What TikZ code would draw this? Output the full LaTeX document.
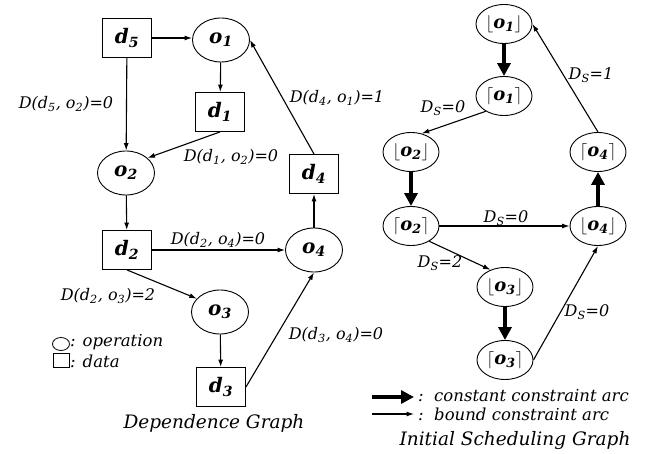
\documentclass[tikz,border=0pt]{standalone}
\usepackage{fontspec}
\setmainfont{DejaVu Serif}
\usetikzlibrary{arrows.meta,shapes.geometric}
\newcommand{\sbs}[1]{\textsubscript{#1}}
\tikzset{
  every node/.style={inner sep=0pt},
  datab/.style={draw, line width=0.9pt, minimum width=49pt, minimum height=39pt,
    font=\fontsize{20}{22}\selectfont\bfseries\itshape},
  oper/.style={draw, ellipse, line width=0.9pt, minimum width=57pt, minimum height=44pt,
    font=\fontsize{20}{22}\selectfont\bfseries\itshape},
  sop/.style={draw, ellipse, line width=0.9pt, minimum width=56pt, minimum height=39pt,
    font=\fontsize{18}{20}\selectfont\bfseries\itshape},
  arr/.style={-{Latex[length=7.5pt,width=5pt]}, line width=1.1pt},
  carr/.style={-{Triangle[length=13pt,width=13pt]}, line width=4.5pt},
  lab/.style={font=\fontsize{16}{18}\selectfont\itshape},
  txt/.style={font=\fontsize{16.5}{18}\selectfont\itshape},
  ttl/.style={font=\fontsize{18.5}{20}\selectfont\itshape},
}
\begin{document}
\begin{tikzpicture}[x=1pt,y=-1pt]
\useasboundingbox (0,0) rectangle (655,454);
% ---------- Dependence graph ----------
\node[datab] (d5) at (127,38) {d\sbs{5}};
\node[oper]  (o1) at (221,40) {o\sbs{1}};
\node[datab] (d1) at (220,112) {d\sbs{1}};
\node[oper]  (o2) at (126,173) {o\sbs{2}};
\node[datab] (d4) at (314,174) {d\sbs{4}};
\node[datab] (d2) at (127,250) {d\sbs{2}};
\node[oper]  (o4) at (314,250) {o\sbs{4}};
\node[oper]  (o3) at (220,312) {o\sbs{3}};
\node[datab] (d3) at (221,387) {d\sbs{3}};

\draw[arr] (d5.east) -- (d5.east -| o1.west);
\draw[arr] (o1) -- (d1);
\draw[arr] (d5) -- (o2);
\draw[arr] (d1.south) -- (o2.35);
\draw[arr] (o2) -- (d2);
\draw[arr] (d2) -- (o4);
\draw[arr] (d2.south) -- (o3.150);
\draw[arr] (o3) -- (d3);
\draw[arr] (d3.east) -- (o4.south);
\draw[arr] (o4) -- (d4);
\draw[arr] (d4.north) -- (o1.east);

\node[lab] (l51) at (66,104) {D(d\sbs{5}, o\sbs{2})=0};
\node[lab] (l12) at (231,157) {D(d\sbs{1}, o\sbs{2})=0};
\node[lab] (l41) at (337,98) {D(d\sbs{4}, o\sbs{1})=1};
\node[lab] (l24) at (218,240) {D(d\sbs{2}, o\sbs{4})=0};
\node[lab] (l23) at (108,296) {D(d\sbs{2}, o\sbs{3})=2};
\node[lab] (l34) at (336,335) {D(d\sbs{3}, o\sbs{4})=0};

\node[draw, ellipse, line width=0.8pt, minimum width=17pt, minimum height=13pt] (lgc) at (61,344) {};
\node[draw, line width=0.8pt, minimum width=16pt, minimum height=14pt] (lgb) at (61,360) {};
\node[txt, anchor=west] (lgct) at (70,342) {: operation};
\node[txt, anchor=west] (lgbt) at (70,361) {: data};
\node[ttl] (t1) at (214,423) {Dependence Graph};

% ---------- Initial scheduling graph ----------
\node[sop] (fo1) at (504,24) {$\lfloor$o\sbs{1}$\rfloor$};
\node[sop] (co1) at (504,96) {$\lceil$o\sbs{1}$\rceil$};
\node[sop] (fo2) at (411,152) {$\lfloor$o\sbs{2}$\rfloor$};
\node[sop] (co4) at (598,152) {$\lceil$o\sbs{4}$\rceil$};
\node[sop] (co2) at (411,226) {$\lceil$o\sbs{2}$\rceil$};
\node[sop] (fo4) at (598,226) {$\lfloor$o\sbs{4}$\rfloor$};
\node[sop] (fo3) at (505,287) {$\lfloor$o\sbs{3}$\rfloor$};
\node[sop] (co3) at (505,360) {$\lceil$o\sbs{3}$\rceil$};

\draw[carr] (fo1) -- (co1);
\draw[carr] (fo2) -- (co2);
\draw[carr] (fo3) -- (co3);
\draw[carr] (fo4) -- (co4);
\draw[arr] (co1.220) -- (fo2.60);
\draw[arr] (co2) -- (fo4);
\draw[arr] (co2.320) -- (fo3.130);
\draw[arr] (co3.east) -- (fo4.south);
\draw[arr] (co4.north) -- (fo1.east);

\node[lab] (s1) at (591,75) {D\sbs{S}=1};
\node[lab] (s2) at (443,108) {D\sbs{S}=0};
\node[lab] (s3) at (506,218) {D\sbs{S}=0};
\node[lab] (s4) at (440,263) {D\sbs{S}=2};
\node[lab] (s5) at (587,312) {D\sbs{S}=0};

\coordinate (ka) at (372,397);
\coordinate (kb) at (414,397);
\coordinate (ba) at (372,414);
\coordinate (bb) at (414,414);
\draw[carr] (ka) -- (kb);
\draw[arr] (ba) -- (bb);
\node[txt, anchor=west] (kt) at (418,396) {:\ \ constant constraint arc};
\node[txt, anchor=west] (bt) at (418,414) {:\ \ bound constraint arc};
\node[ttl] (t2) at (515,441) {Initial Scheduling Graph};
\end{tikzpicture}
\end{document}
